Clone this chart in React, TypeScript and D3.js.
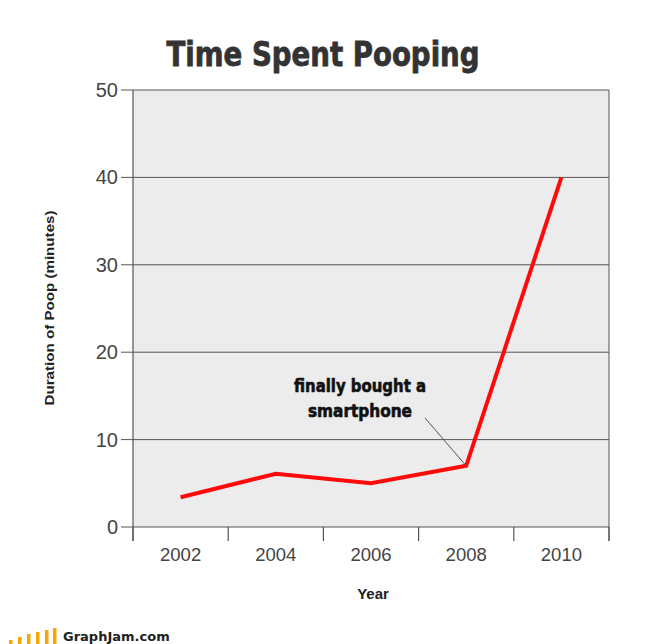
import React from "react";
import * as d3 from "d3";

const years = ["2002", "2004", "2006", "2008", "2010"];
const minutes = [3.4, 6.1, 5.0, 7.0, 40.0];
const yTicks = [0, 10, 20, 30, 40, 50];
const title = "Time Spent Pooping";
const annotationLines = ["finally bought a", "smartphone"];
const annotatedYear = "2008";

export default function App() {
  const W = 653, H = 644;
  const left = 133, right = 609, top = 90, bottom = 527;
  const x = d3.scaleBand<string>().domain(years).range([left, right]).paddingInner(0).paddingOuter(0);
  const y = d3.scaleLinear().domain([0, 50]).range([bottom, top]);
  const cx = (d: string) => (x(d) as number) + x.bandwidth() / 2;
  const line = d3.line<number>().x((_, i) => cx(years[i])).y((d) => y(d));
  const boundaries = [...years.map((d) => x(d) as number), right];
  const ai = years.indexOf(annotatedYear);
  const ax = cx(annotatedYear), ay = y(minutes[ai]);
  const logoX = [9, 18, 27, 36, 45, 53];
  const logoH = [4, 7, 10, 12, 14, 16];

  return (
    <svg width={W} height={H} style={{ position: "absolute", left: 0, top: 0, background: "#fff" }}>
      <text x={323} y={66} textAnchor="middle" fontFamily="'DejaVu Sans Condensed', 'DejaVu Sans', sans-serif" fontWeight="bold" fontSize={34} fill="#333" stroke="#333" strokeWidth={0.8} textLength={313} lengthAdjust="spacingAndGlyphs">{title}</text>
      <rect x={left} y={top} width={right - left} height={bottom - top} fill="#ececec" />
      {yTicks.map((t) => (
        <g key={t}>
          <line x1={121} x2={right} y1={y(t)} y2={y(t)} stroke="#555" strokeWidth={1} />
          <text x={118} y={y(t) + 7} textAnchor="end" fontFamily="'Liberation Sans', Arial, sans-serif" fontSize={20} fill="#444">{t}</text>
        </g>
      ))}
      <line x1={left} x2={left} y1={top} y2={bottom + 14} stroke="#555" strokeWidth={1.2} />
      <line x1={right} x2={right} y1={top} y2={bottom + 14} stroke="#555" strokeWidth={1} />
      {boundaries.map((b, i) => (
        <line key={i} x1={b} x2={b} y1={bottom} y2={bottom + 14} stroke="#555" strokeWidth={1.2} />
      ))}
      {years.map((d) => (
        <text key={d} x={cx(d)} y={561} textAnchor="middle" fontFamily="'Liberation Sans', Arial, sans-serif" fontSize={18.5} fill="#444">{d}</text>
      ))}
      <text x={373} y={599} textAnchor="middle" fontFamily="'Liberation Sans', Arial, sans-serif" fontWeight="bold" fontSize={15} fill="#222">Year</text>
      <text transform="translate(54,308) rotate(-90)" textAnchor="middle" fontFamily="'Liberation Sans', Arial, sans-serif" fontWeight="bold" fontSize={13.5} fill="#222" textLength={195} lengthAdjust="spacingAndGlyphs">Duration of Poop (minutes)</text>
      <path d={line(minutes) || ""} fill="none" stroke="#ff0a0a" strokeWidth={4} strokeLinejoin="miter" />
      <line x1={425} y1={418} x2={ax} y2={ay} stroke="#555" strokeWidth={1} />
      {annotationLines.map((l, i) => (
        <text key={i} x={360} y={392 + i * 25} textAnchor="middle" fontFamily="'DejaVu Sans Condensed', 'DejaVu Sans', sans-serif" fontWeight="bold" fontSize={18} fill="#111" stroke="#111" strokeWidth={0.6} textLength={i === 0 ? 132 : 104} lengthAdjust="spacingAndGlyphs">{l}</text>
      ))}
      {logoX.map((lx, i) => (
        <rect key={i} x={lx} y={644 - logoH[i]} width={3.5} height={logoH[i]} fill="#f5a800" />
      ))}
      <text x={63} y={641} fontFamily="'DejaVu Sans', Verdana, sans-serif" fontWeight="bold" fontSize={13} fill="#222">GraphJam.com</text>
    </svg>
  );
}
